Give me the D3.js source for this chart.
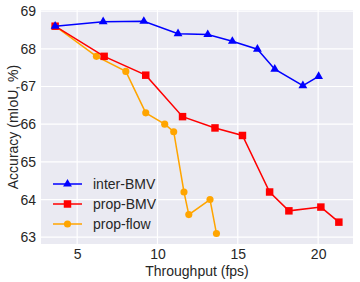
<!DOCTYPE html>
<html>
<head>
<meta charset="utf-8">
<script src="https://cdn.jsdelivr.net/npm/d3@7"></script>
<style>
  body { margin: 0; background: #fff; }
  text { font-family: "Liberation Sans", Arial, sans-serif; fill: #262626; }
</style>
</head>
<body>
<div id="chart"></div>
<script>
let width = 360
let height = 282

// data
let interX = [3.63, 6.62, 9.15, 11.28, 13.13, 14.66, 16.22, 17.3, 19.05, 20.03]
let interY = [68.6, 68.72, 68.73, 68.4, 68.38, 68.2, 67.99, 67.46, 67.02, 67.27]
let bmvX = [3.63, 6.68, 9.27, 11.56, 13.58, 15.29, 16.98, 18.18, 20.17, 21.29]
let bmvY = [68.6, 67.8, 67.3, 66.2, 65.9, 65.7, 64.2, 63.7, 63.8, 63.4]
let flowX = [3.63, 6.2, 8.03, 9.27, 10.45, 11.01, 11.65, 11.95, 13.27, 13.67]
let flowY = [68.6, 67.8, 67.4, 66.3, 66.0, 65.8, 64.2, 63.6, 64.0, 63.1]
let xTicks = [5, 10, 15, 20]
let yTicks = [63, 64, 65, 66, 67, 68, 69]

let margin = {'top': 10, 'right': 7, 'bottom': 38, 'left': 41}
let w = width - margin.left - margin.right
let h = height - margin.top - margin.bottom

let xScale = d3.scaleLinear().domain([2.75, 22.17]).range([0, w])
let yScale = d3.scaleLinear().domain([62.82, 69.03]).range([h, 0])

let svg = d3.select('#chart').append('svg')
  .attr('width', width)
  .attr('height', height)

let inner = svg.append('g')
  .attr('transform', 'translate(' + margin.left + ',' + margin.top + ')')

inner.append('rect')
  .attr('width', w).attr('height', h)
  .attr('fill', '#EAEAF2')

// grid
inner.append('g').selectAll('line').data(xTicks).enter().append('line')
  .attr('x1', d => xScale(d)).attr('x2', d => xScale(d))
  .attr('y1', 0).attr('y2', h)
  .attr('stroke', '#fff').attr('stroke-width', 1.2)
inner.append('g').selectAll('line').data(yTicks).enter().append('line')
  .attr('y1', d => yScale(d)).attr('y2', d => yScale(d))
  .attr('x1', 0).attr('x2', w)
  .attr('stroke', '#fff').attr('stroke-width', 1.2)

// axes (no tick lines, no domain)
let xAxis = inner.append('g')
  .attr('transform', 'translate(0,' + h + ')')
  .call(d3.axisBottom(xScale).tickValues(xTicks).tickFormat(d3.format('d')).tickSize(0).tickPadding(5))
let yAxis = inner.append('g')
  .call(d3.axisLeft(yScale).tickValues(yTicks).tickFormat(d3.format('d')).tickSize(0).tickPadding(5))
;[xAxis, yAxis].forEach(a => {
  a.select('.domain').remove()
  a.selectAll('text').attr('font-size', 14).attr('font-family', null).style('fill', '#262626')
})

svg.append('text')
  .attr('x', margin.left + w / 2).attr('y', 276)
  .attr('text-anchor', 'middle').attr('font-size', 14)
  .text('Throughput (fps)')

svg.append('text')
  .attr('transform', 'translate(18,' + (margin.top + h / 2) + ') rotate(-90)')
  .attr('text-anchor', 'middle').attr('font-size', 14)
  .text('Accuracy (mIoU, %)')

let series = [
  {name: 'prop-flow', xs: flowX, ys: flowY, color: '#FFA500', sym: d3.symbolCircle, size: 40},
  {name: 'prop-BMV', xs: bmvX, ys: bmvY, color: '#FF0000', sym: d3.symbolSquare, size: 56},
  {name: 'inter-BMV', xs: interX, ys: interY, color: '#0000FF', sym: d3.symbolTriangle, size: 34}
]

let line = d3.line().x(d => xScale(d[0])).y(d => yScale(d[1]))

series.forEach(s => {
  let pts = s.xs.map((x, i) => [x, s.ys[i]])
  inner.append('path')
    .attr('d', line(pts))
    .attr('fill', 'none')
    .attr('stroke', s.color)
    .attr('stroke-width', 1.5)
  inner.append('g').selectAll('path').data(pts).enter().append('path')
    .attr('transform', d => 'translate(' + xScale(d[0]) + ',' + yScale(d[1]) + ')')
    .attr('d', d3.symbol(s.sym, s.size))
    .attr('fill', s.color)
})

// legend
let legend = svg.append('g')
let legendOrder = series.slice().reverse()
legendOrder.forEach((s, i) => {
  let y = 184 + i * 20
  legend.append('line')
    .attr('x1', 53).attr('x2', 82).attr('y1', y).attr('y2', y)
    .attr('stroke', s.color).attr('stroke-width', 1.5)
  legend.append('path')
    .attr('transform', 'translate(67.5,' + y + ')')
    .attr('d', d3.symbol(s.sym, s.size))
    .attr('fill', s.color)
  legend.append('text')
    .attr('x', 93).attr('y', y + 5)
    .attr('font-size', 14)
    .text(s.name)
})
</script>
</body>
</html>
